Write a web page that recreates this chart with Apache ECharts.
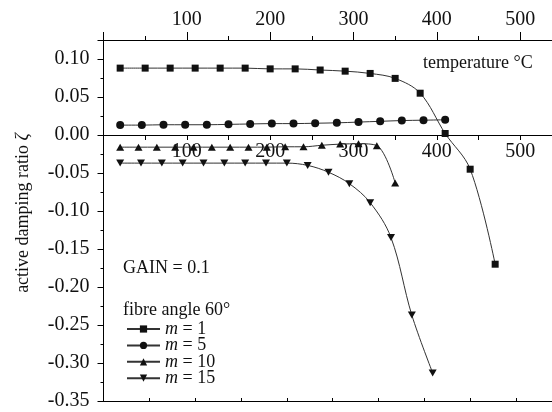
<!DOCTYPE html>
<html>
<head>
<meta charset="utf-8">
<script src="https://cdn.jsdelivr.net/npm/echarts@6/dist/echarts.min.js"></script>
<style>
  html, body { margin: 0; padding: 0; background: #fff; }
  #chart { width: 552px; height: 412px; }
</style>
</head>
<body>
<div id="chart"></div>
<script>
// Temperatures (°C) and active damping ratios for each mode number m
const tempM1 = [20, 50, 80, 110, 140, 170, 200, 230, 260, 290, 320, 350, 380, 410, 440, 470];
const zetaM1 = [0.088, 0.088, 0.088, 0.088, 0.088, 0.088, 0.087, 0.087, 0.0855, 0.084, 0.081, 0.0745, 0.055, 0.002, -0.045, -0.170];

const tempM5 = [20, 46, 72, 98, 124, 150, 176, 202, 228, 254, 280, 306, 332, 358, 384, 410];
const zetaM5 = [0.013, 0.013, 0.0135, 0.0135, 0.0135, 0.014, 0.0145, 0.015, 0.015, 0.0155, 0.016, 0.017, 0.018, 0.019, 0.0195, 0.020];

const tempM10 = [20, 42, 64, 86, 108, 130, 152, 174, 196, 218, 240, 262, 284, 306, 328, 350];
const zetaM10 = [-0.016, -0.016, -0.016, -0.016, -0.016, -0.016, -0.016, -0.016, -0.016, -0.0155, -0.0155, -0.0135, -0.012, -0.0115, -0.014, -0.063];

const tempM15 = [20, 45, 70, 95, 120, 145, 170, 195, 220, 245, 270, 295, 320, 345, 370, 395];
const zetaM15 = [-0.037, -0.037, -0.037, -0.037, -0.037, -0.037, -0.037, -0.037, -0.037, -0.040, -0.049, -0.064, -0.089, -0.135, -0.237, -0.313];

const seriesNames = ['m = 1', 'm = 5', 'm = 10', 'm = 15'];

const FONT = '"Liberation Serif", "Times New Roman", serif';
const INK = '#111';

// Plot frame: x from 0 to 600 °C (the right part runs past the page edge),
// y from -0.35 to 0.125
const X_MAX = 600;
const Y_MIN = -0.35, Y_MAX = 0.125;
const PLOT = { left: 103.5, right: -51.5, top: 40, bottom: 11 };
// height of the band from the top edge down to zeta = 0
const zeroBand = (412 - PLOT.top - PLOT.bottom) * Y_MAX / (Y_MAX - Y_MIN);

const pairs = (xs, ys) => xs.map((x, i) => [x, ys[i]]);
const tempLabel = v => (v > 0 && v <= 500 && v % 100 === 0) ? String(v) : '';

function lineSeries(name, data, symbol, size) {
  return {
    name, type: 'line', data, xAxisIndex: 0, yAxisIndex: 0,
    smooth: 0.35,
    symbol, symbolSize: size,
    showAllSymbol: true,
    lineStyle: { color: '#333', width: 1 },
    itemStyle: { color: INK, borderWidth: 0 },
    emphasis: { disabled: true },
    animation: false
  };
}

const axisBlack = { color: '#000', width: 1 };

const chart = echarts.init(document.getElementById('chart'), null, { renderer: 'canvas' });

const option = {
  animation: false,
  backgroundColor: '#fff',
  grid: [
    Object.assign({ outerBoundsMode: 'none', containLabel: false }, PLOT),
    // band ending at zeta = 0, carrying the temperature scale drawn across the middle
    { outerBoundsMode: 'none', containLabel: false, left: PLOT.left, right: PLOT.right, top: PLOT.top, height: zeroBand }
  ],
  xAxis: [
    { // temperature scale along the top edge
      gridIndex: 0, type: 'value', position: 'top', min: 0, max: X_MAX, interval: 100,
      axisLine: { show: true, onZero: false, lineStyle: axisBlack },
      axisTick: { show: true, inside: false, length: 8, lineStyle: axisBlack },
      minorTick: { show: true, splitNumber: 2, length: 4, lineStyle: axisBlack },
      splitLine: { show: false }, minorSplitLine: { show: false },
      axisLabel: { fontSize: 20, fontFamily: FONT, color: INK, margin: 10, formatter: tempLabel }
    },
    { // frame line along the bottom
      gridIndex: 0, type: 'value', position: 'bottom', min: 0, max: X_MAX / 55, interval: 1,
      axisLine: { show: true, onZero: false, lineStyle: axisBlack },
      axisTick: { show: true, inside: true, length: 3, lineStyle: axisBlack },
      splitLine: { show: false },
      axisLabel: { show: false }
    },
    { // temperature scale crossing at zero damping
      gridIndex: 1, type: 'value', position: 'bottom', min: 0, max: X_MAX, interval: 50,
      axisLine: { show: true, onZero: false, lineStyle: axisBlack },
      axisTick: { show: true, inside: false, length: 5, lineStyle: axisBlack },
      splitLine: { show: false },
      axisLabel: { fontSize: 20, fontFamily: FONT, color: INK, margin: 7, formatter: tempLabel }
    }
  ],
  yAxis: [
    {
      gridIndex: 0, type: 'value', position: 'left', min: Y_MIN, max: Y_MAX, interval: 0.05,
      axisLine: { show: true, onZero: false, lineStyle: axisBlack },
      axisTick: { show: true, inside: false, length: 6, lineStyle: axisBlack },
      splitLine: { show: false },
      axisLabel: {
        fontSize: 20, fontFamily: FONT, color: INK, margin: 14,
        formatter: v => v > 0.11 ? '' : (Math.abs(v) < 1e-9 ? '0.00' : v.toFixed(2))
      }
    },
    { // minor ticks every 0.025
      gridIndex: 0, type: 'value', position: 'left', min: Y_MIN, max: Y_MAX, interval: 0.025,
      axisLine: { show: false, onZero: false },
      axisTick: { show: true, inside: false, length: 3, lineStyle: axisBlack },
      splitLine: { show: false },
      axisLabel: { show: false }
    },
    {
      gridIndex: 1, type: 'value', position: 'left', min: 0, max: Y_MAX, show: false
    }
  ],
  legend: {
    orient: 'vertical', left: 126, top: 320, padding: 0,
    itemWidth: 33, itemHeight: 9, itemGap: -1.6,
    data: seriesNames,
    formatter: name => '{i|m}' + name.slice(1),
    textStyle: {
      fontSize: 18, fontFamily: FONT, color: INK, lineHeight: 16,
      rich: { i: { fontStyle: 'italic', fontSize: 18, fontFamily: FONT, color: INK, lineHeight: 16 } }
    },
    selectedMode: false
  },
  graphic: [
    {
      type: 'text', x: 423, y: 63,
      style: { text: 'temperature °C', fontSize: 18, fontFamily: FONT, fill: INK, verticalAlign: 'middle' }
    },
    {
      type: 'text', x: 123, y: 268,
      style: { text: 'GAIN = 0.1', fontSize: 18, fontFamily: FONT, fill: INK, verticalAlign: 'middle' }
    },
    {
      type: 'text', x: 123, y: 310,
      style: { text: 'fibre angle 60°', fontSize: 18, fontFamily: FONT, fill: INK, verticalAlign: 'middle' }
    },
    {
      type: 'text', x: 23, y: 213, rotation: Math.PI / 2,
      style: {
        text: 'active damping ratio {i|ζ}', fontSize: 18, fontFamily: FONT, fill: INK,
        align: 'center', verticalAlign: 'middle',
        rich: { i: { fontStyle: 'italic', fontSize: 18, fontFamily: FONT, fill: INK } }
      }
    }
  ],
  series: [
    lineSeries(seriesNames[0], pairs(tempM1, zetaM1), 'rect', 7),
    lineSeries(seriesNames[1], pairs(tempM5, zetaM5), 'circle', 8),
    lineSeries(seriesNames[2], pairs(tempM10, zetaM10), 'triangle', [8, 7]),
    lineSeries(seriesNames[3], pairs(tempM15, zetaM15), 'path://M0,0 L10,0 L5,9 Z', [8, 7])
  ]
};

chart.setOption(option);
</script>
</body>
</html>
